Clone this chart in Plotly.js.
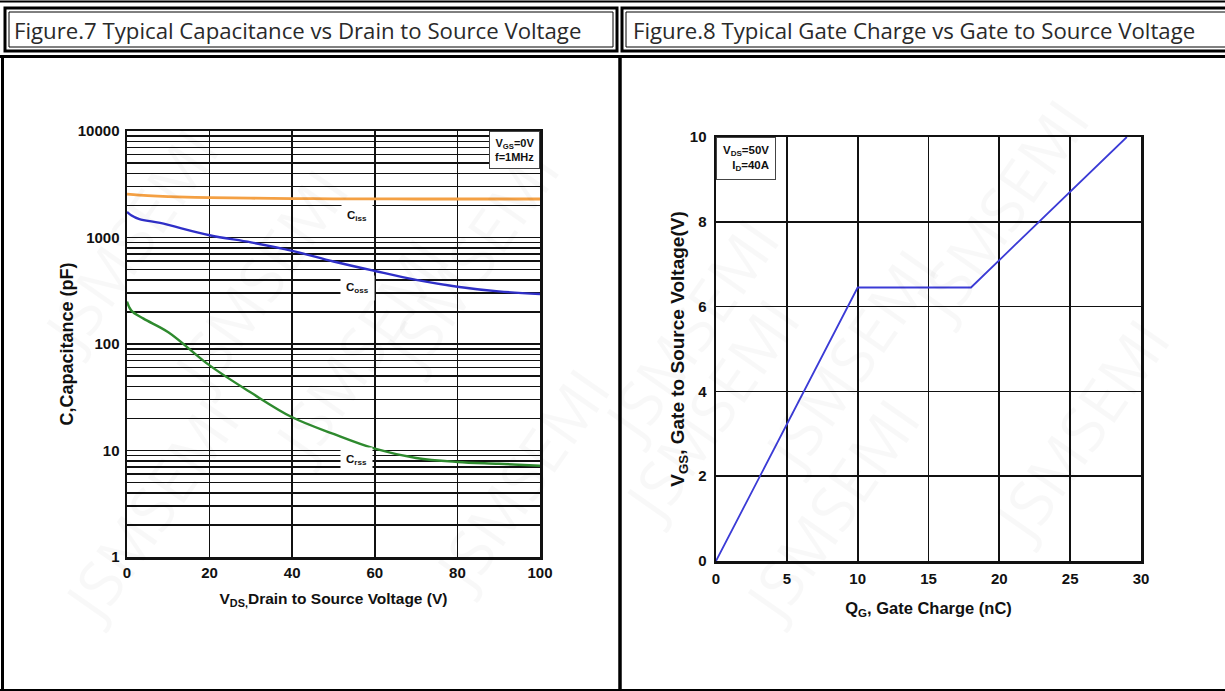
<!DOCTYPE html>
<html>
<head>
<meta charset="utf-8">
<script src="https://cdn.plot.ly/plotly-3.0.1.min.js"></script>
<style>html,body{margin:0;padding:0;background:#fff;}#chart{width:1225px;height:691px;}</style>
</head>
<body>
<div id="chart"></div>
<script>
// ---- Figure 7 data: capacitance vs VDS ----
const cissVds = [0, 5, 10, 20, 30, 40, 50, 60, 70, 80, 90, 100];
const cissPf  = [2550, 2470, 2420, 2370, 2340, 2320, 2310, 2310, 2300, 2300, 2300, 2300];
const cossVds = [0, 1, 3, 8, 20, 30, 40, 50, 60, 70, 80, 90, 100];
const cossPf  = [1740, 1620, 1490, 1370, 1050, 900, 750, 595, 485, 400, 345, 312, 295];
const crssVds = [0, 1, 4, 10, 20, 30, 40, 50, 60, 70, 80, 90, 100];
const crssPf  = [250, 207, 173, 129, 63, 35, 20.5, 14.3, 10.4, 8.5, 7.8, 7.5, 7.2];
const capTickVals = [1, 10, 100, 1000, 10000];
const capTickText = ["1", "10", "100", "1000", "10000"];

// ---- Figure 8 data: gate charge ----
const qgNc  = [0, 10, 18, 29];
const vgsV  = [0, 6.45, 6.45, 10];

const W = 1225, H = 691;
const X = p => p / W;
const Y = p => 1 - p / H;

const tickFont = {family: "Liberation Sans Narrow, Liberation Sans, Arial, sans-serif", size: 15, color: "#111", weight: 700};
const titleFam = "Liberation Sans, Arial, sans-serif";

const traces = [
  {x: cissVds, y: cissPf, xaxis: "x", yaxis: "y", mode: "lines", line: {color: "#F4A043", width: 2.8, shape: "spline"}, hoverinfo: "skip"},
  {x: cossVds, y: cossPf, xaxis: "x", yaxis: "y", mode: "lines", line: {color: "#2F2FC8", width: 2.4, shape: "spline"}, hoverinfo: "skip"},
  {x: crssVds, y: crssPf, xaxis: "x", yaxis: "y", mode: "lines", line: {color: "#2E8A2E", width: 2.4, shape: "spline"}, hoverinfo: "skip"},
  {x: qgNc, y: vgsV, xaxis: "x2", yaxis: "y2", mode: "lines", line: {color: "#3B3BD6", width: 1.8}, hoverinfo: "skip"}
];

const frameShapes = [];
function line(x0, y0, x1, y1, w) {
  frameShapes.push({type: "line", xref: "paper", yref: "paper", x0: X(x0), y0: Y(y0), x1: X(x1), y1: Y(y1), line: {color: "#000", width: w}, layer: "above"});
}
function rect(x0, y0, x1, y1, w) {
  frameShapes.push({type: "rect", xref: "paper", yref: "paper", x0: X(x0), y0: Y(y0), x1: X(x1), y1: Y(y1), line: {color: "#000", width: w}, fillcolor: "rgba(0,0,0,0)", layer: "above"});
}
// page frame
line(0, 1.5, W, 1.5, 2);
rect(5, 8, 617, 51, 3);
rect(9, 12, 613, 47, 1);
rect(622, 8, 1232, 51, 3);
rect(626, 12, 1232, 47, 1);
line(0, 56.5, W, 56.5, 3);
line(2.5, 56, 2.5, H, 3);
line(620, 56, 620, H, 3.5);
line(0, 690, W, 690, 2);

const wm = [];
const wmSpots = [[150, 150], [470, 260], [250, 480], [520, 610], [40, 640], [820, 410], [960, 230], [1190, 430], [1110, 80], [690, 200], [940, 640], [20, 240]];
wmSpots.forEach(p => wm.push({xref: "paper", yref: "paper", x: X(p[0]), y: Y(p[1]), text: "JSMSEMI", showarrow: false, textangle: -55, font: {family: "Open Sans, sans-serif", size: 62, color: "rgba(0,0,0,0.028)"}}));

const layout = {
  width: W, height: H,
  margin: {l: 0, r: 0, t: 0, b: 0},
  paper_bgcolor: "#fff", plot_bgcolor: "#fff",
  showlegend: false,
  xaxis: {
    domain: [X(127), X(540)], anchor: "y", range: [0, 100], dtick: 20, tick0: 0,
    showgrid: true, gridcolor: "#111", gridwidth: 1.7, zeroline: false,
    showline: true, mirror: true, linecolor: "#111", linewidth: 2.5, ticks: "",
    tickfont: tickFont, ticklabelstandoff: 0,
    title: {text: "V<sub>DS,</sub>Drain to Source Voltage (V)", font: {family: titleFam, size: 15.5, color: "#111", weight: 700}, standoff: 14}
  },
  yaxis: {
    domain: [Y(557), Y(131)], anchor: "x", type: "log", range: [0, 4],
    tickvals: capTickVals, ticktext: capTickText,
    showgrid: true, gridcolor: "#111", gridwidth: 1.7, zeroline: false,
    minor: {dtick: "D1", showgrid: true, gridcolor: "#111", gridwidth: 1.4, ticks: ""},
    showline: true, mirror: true, linecolor: "#111", linewidth: 2.5, ticks: "",
    tickfont: tickFont, ticklabelstandoff: 2,
    title: {text: "C,Capacitance (pF)", font: {family: titleFam, size: 18, color: "#111", weight: 700}, standoff: 0}
  },
  xaxis2: {
    domain: [X(716), X(1141)], anchor: "y2", range: [0, 30], dtick: 5, tick0: 0,
    showgrid: true, gridcolor: "#111", gridwidth: 1.7, zeroline: false,
    showline: true, mirror: true, linecolor: "#111", linewidth: 2.5, ticks: "",
    tickfont: tickFont, ticklabelstandoff: 2,
    title: {text: "Q<sub>G</sub>, Gate Charge (nC)", font: {family: titleFam, size: 16.5, color: "#111", weight: 700}, standoff: 17}
  },
  yaxis2: {
    domain: [Y(561), Y(137)], anchor: "x2", range: [0, 10], dtick: 2, tick0: 0,
    showgrid: true, gridcolor: "#111", gridwidth: 1.7, zeroline: false,
    showline: true, mirror: true, linecolor: "#111", linewidth: 2.5, ticks: "",
    tickfont: tickFont, ticklabelstandoff: 4,
    title: {text: "V<sub>GS</sub>, Gate to Source Voltage(V)", font: {family: titleFam, size: 19, color: "#111", weight: 700}, standoff: 0}
  },
  shapes: frameShapes,
  annotations: wm.concat([
    {xref: "paper", yref: "paper", x: X(12), y: Y(30), xanchor: "left", yanchor: "middle", showarrow: false,
     text: "Figure.7 Typical Capacitance vs Drain to Source Voltage", font: {family: "Open Sans, Noto Sans, sans-serif", size: 22.2, color: "#2a2a2a"}},
    {xref: "paper", yref: "paper", x: X(631), y: Y(30), xanchor: "left", yanchor: "middle", showarrow: false,
     text: "Figure.8 Typical Gate Charge vs Gate to Source Voltage", font: {family: "Open Sans, Noto Sans, sans-serif", size: 22.2, color: "#2a2a2a"}},
    {xref: "paper", yref: "paper", x: X(540), y: Y(131), xanchor: "right", yanchor: "top", showarrow: false, align: "right",
     text: "V<sub>GS</sub>=0V<br>f=1MHz", font: {family: "Liberation Sans, Arial, sans-serif", size: 11, color: "#111", weight: 700},
     bgcolor: "#fff", bordercolor: "#444", borderwidth: 1, borderpad: 5},
    {xref: "paper", yref: "paper", x: X(716), y: Y(137), xanchor: "left", yanchor: "top", showarrow: false, align: "right",
     text: "V<sub>DS</sub>=50V<br>I<sub>D</sub>=40A", font: {family: "Liberation Sans, Arial, sans-serif", size: 11.5, color: "#111", weight: 700},
     bgcolor: "#fff", bordercolor: "#444", borderwidth: 1, borderpad: 6},
    {xref: "paper", yref: "paper", x: X(357), y: Y(216), xanchor: "center", yanchor: "middle", showarrow: false,
     text: "C<sub>iss</sub>", font: {family: "Liberation Sans, Arial, sans-serif", size: 11.5, color: "#111", weight: 700},
     bgcolor: "#fff", borderpad: 5},
    {xref: "paper", yref: "paper", x: X(357), y: Y(288), xanchor: "center", yanchor: "middle", showarrow: false,
     text: "C<sub>oss</sub>", font: {family: "Liberation Sans, Arial, sans-serif", size: 11.5, color: "#111", weight: 700},
     bgcolor: "#fff", borderpad: 5},
    {xref: "paper", yref: "paper", x: X(356), y: Y(460), xanchor: "center", yanchor: "middle", showarrow: false,
     text: "C<sub>rss</sub>", font: {family: "Liberation Sans, Arial, sans-serif", size: 11.5, color: "#111", weight: 700},
     bgcolor: "#fff", borderpad: 5}
  ])
};

Plotly.newPlot("chart", traces, layout, {displayModeBar: false, staticPlot: true});
</script>
</body>
</html>
